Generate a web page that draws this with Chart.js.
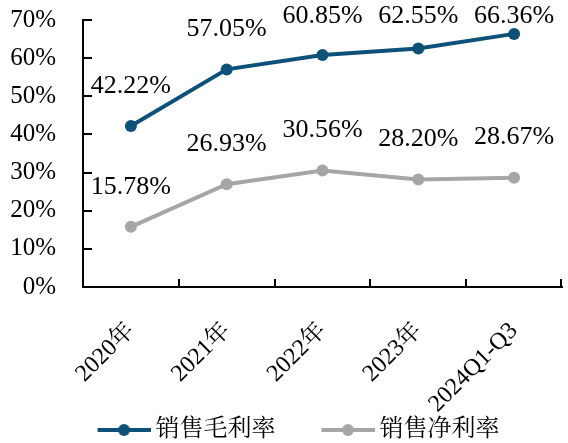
<!DOCTYPE html>
<html>
<head>
<meta charset="utf-8">
<script src="https://cdn.jsdelivr.net/npm/chart.js@4.4.1/dist/chart.umd.min.js"></script>
<style>
  html, body { margin: 0; padding: 0; background: #fff; }
  #wrap { width: 568px; height: 443px; }
</style>
</head>
<body>
<div id="wrap"><canvas id="c" width="568" height="443"></canvas></div>
<script>
// Categories and margin series (percent)
const categories = ['2020年', '2021年', '2022年', '2023年', '2024Q1-Q3'];
const grossMargin = [42.22, 57.05, 60.85, 62.55, 66.36];
const netMargin = [15.78, 26.93, 30.56, 28.20, 28.67];
const yTicks = [0, 10, 20, 30, 40, 50, 60, 70];
const seriesNames = ['销售毛利率', '销售净利率'];

const BLUE = '#0d5078';
const GREY = '#a6a6a6';
const FONT = '"Liberation Serif", "Noto Serif CJK SC", "Noto Sans CJK SC", serif';

// Legend marker: a short line with a dot, right-aligned in a wider transparent image
// so that the legend items get extra space in front of each marker
function legendMarker(color) {
  const w = 102;
  const cv = document.createElement('canvas');
  cv.width = w; cv.height = 14;
  const g = cv.getContext('2d');
  const x0 = w - 53;
  g.strokeStyle = color; g.lineWidth = 4;
  g.beginPath(); g.moveTo(x0, 7); g.lineTo(w, 7); g.stroke();
  g.fillStyle = color;
  g.beginPath(); g.arc(x0 + 26.5, 7, 6, 0, Math.PI * 2); g.fill();
  return cv;
}
const markers = [legendMarker(BLUE), legendMarker(GREY)];

// Nudge the legend block slightly left after layout
const legendShift = {
  id: 'legendShift',
  afterLayout(chart) {
    if (chart.legend) { chart.legend.left -= 5; chart.legend.right -= 5; }
  }
};

// Inward tick marks on both axes
const innerTicks = {
  id: 'innerTicks',
  afterDraw(chart) {
    const ctx = chart.ctx;
    const x = chart.scales.x, y = chart.scales.y;
    ctx.save();
    ctx.strokeStyle = '#000';
    ctx.lineWidth = 2;
    y.ticks.forEach((t, i) => {
      const py = Math.round(y.getPixelForTick(i));
      ctx.beginPath(); ctx.moveTo(x.left, py); ctx.lineTo(x.left + 9, py); ctx.stroke();
    });
    const n = categories.length;
    const step = (x.right - x.left) / n;
    for (let i = 1; i <= n; i++) {
      const px = Math.round(x.left + i * step) - (i === n ? 1 : 0);
      ctx.beginPath(); ctx.moveTo(px, y.bottom); ctx.lineTo(px, y.bottom - 8); ctx.stroke();
    }
    ctx.restore();
  }
};

// Value labels above each point, kept inside the top of the canvas
const valueLabels = {
  id: 'valueLabels',
  afterDatasetsDraw(chart) {
    const ctx = chart.ctx;
    ctx.save();
    ctx.font = '26px ' + FONT;
    ctx.fillStyle = '#000';
    ctx.textAlign = 'center';
    ctx.textBaseline = 'middle';
    chart.data.datasets.forEach((ds, di) => {
      chart.getDatasetMeta(di).data.forEach((pt, i) => {
        const ly = Math.max(pt.y - 40, 16);
        ctx.fillText(ds.data[i].toFixed(2) + '%', pt.x, ly);
      });
    });
    ctx.restore();
  }
};

new Chart(document.getElementById('c'), {
  type: 'line',
  data: {
    labels: categories,
    datasets: [
      { label: seriesNames[0], data: grossMargin, borderColor: BLUE, backgroundColor: BLUE,
        borderWidth: 4, pointRadius: 6, pointHoverRadius: 6, pointBackgroundColor: BLUE, pointBorderWidth: 0 },
      { label: seriesNames[1], data: netMargin, borderColor: GREY, backgroundColor: GREY,
        borderWidth: 4, pointRadius: 6, pointHoverRadius: 6, pointBackgroundColor: GREY, pointBorderWidth: 0 }
    ]
  },
  options: {
    responsive: false,
    animation: false,
    devicePixelRatio: 1,
    layout: { padding: { top: 20, right: 3, left: 0, bottom: -9 } },
    plugins: {
      tooltip: { enabled: false },
      legend: {
        position: 'bottom',
        labels: {
          usePointStyle: true,
          pointStyleWidth: 88,
          boxHeight: 14,
          padding: 4,
          color: '#000',
          font: { family: FONT, size: 24 },
          generateLabels(chart) {
            return chart.data.datasets.map((ds, i) => ({
              text: ds.label, pointStyle: markers[i], fillStyle: ds.borderColor,
              strokeStyle: ds.borderColor, lineWidth: 0, datasetIndex: i, hidden: false
            }));
          }
        }
      }
    },
    scales: {
      x: {
        offset: true,
        grid: { display: false },
        border: { display: true, color: '#000', width: 2 },
        ticks: {
          color: '#000', font: { family: FONT, size: 24 },
          minRotation: 45, maxRotation: 45, padding: 22, autoSkip: false
        },
        afterFit(scale) { scale.height = 127; }
      },
      y: {
        min: 0, max: 70,
        afterBuildTicks(scale) { scale.ticks = yTicks.map(v => ({ value: v })); },
        grid: { display: false, tickLength: 27 },
        border: { display: true, color: '#000', width: 2 },
        ticks: {
          color: '#000', font: { family: FONT, size: 25 }, padding: 0,
          callback: v => v + '%'
        },
        afterFit(scale) { scale.width = 83; }
      }
    }
  },
  plugins: [legendShift, innerTicks, valueLabels]
});
</script>
</body>
</html>
